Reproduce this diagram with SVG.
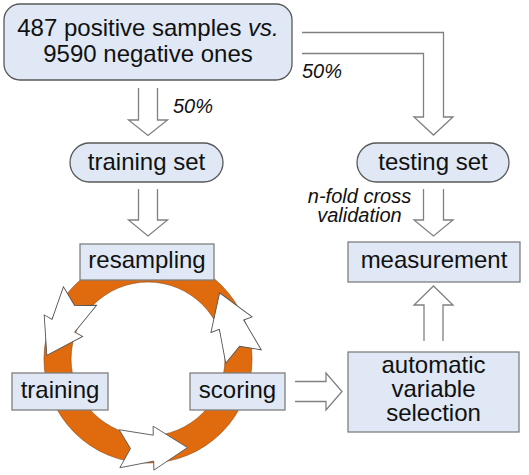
<svg xmlns="http://www.w3.org/2000/svg" width="529" height="475" viewBox="0 0 529 475">
<style>
  .t{font-family:"Liberation Sans",Arial,sans-serif;font-size:24px;fill:#111;text-anchor:middle}
  .lab{font-family:"Liberation Sans",Arial,sans-serif;font-size:20px;font-style:italic;fill:#111}
  .box{fill:#dfe8f4;stroke:#7f7f7f;stroke-width:1.3}
  .rbox{fill:#dfe8f4;stroke:#595959;stroke-width:1.3}
  .harrow{fill:#fff;stroke:#808080;stroke-width:1.3;stroke-linejoin:miter}
  .ring{fill:#e06b0e;stroke:#8a4008;stroke-width:0.6;fill-rule:evenodd}
  .cyc{fill:#fff;stroke:#555;stroke-width:0.9;stroke-linejoin:miter}
</style>
<defs>
  <polygon id="cycArrow" points="0,-19 11,0 0,19 34,13 34,22 68,0 34,-22 34,-13"/>
</defs>
<g id="connectors">
  <path class="harrow" d="M138.5,88 V120 H128.5 L148,135.5 L167.5,120 H157.5 V88"/>
  <path class="harrow" d="M138.5,189 V220 H128.5 L148,236 L167.5,220 H157.5 V189"/>
  <path class="harrow" d="M302,53.5 H423.5 V117 H414 L433.5,135 L453,117 H443.5 V32.5 H302"/>
  <path class="harrow" d="M423.5,189 V220 H414 L433.5,236 L453,220 H443.5 V189"/>
  <path class="harrow" d="M424,341 V305 H414 L433.5,286 L453,305 H443 V341"/>
  <path class="harrow" d="M295,381.5 H326 V373 L342,391.5 L326,410 V401.5 H295"/>
  <text class="lab" x="173" y="113">50%</text>
  <text class="lab" x="302" y="78">50%</text>
  <text class="lab" x="359.5" y="203" text-anchor="middle">n-fold cross</text>
  <text class="lab" x="359.5" y="222" text-anchor="middle">validation</text>
</g>
<g id="cycle">
  <path class="ring" d="M44,359 A104,104 0 1,0 252,359 A104,104 0 1,0 44,359 Z M71,359 A77,77 0 1,0 225,359 A77,77 0 1,0 71,359 Z"/>
</g>
<g id="samples">
  <rect class="rbox" x="4" y="4" width="288" height="76" rx="16"/>
  <text class="t" x="148" y="36">487 positive samples <tspan font-style="italic">vs.</tspan></text>
  <text class="t" x="148" y="62">9590 negative ones</text>
</g>
<g id="training-set">
  <rect class="rbox" x="70" y="143" width="153" height="39" rx="19.5"/>
  <text class="t" x="146.5" y="170">training set</text>
</g>
<g id="testing-set">
  <rect class="rbox" x="357" y="143" width="152" height="39" rx="19.5"/>
  <text class="t" x="433" y="170">testing set</text>
</g>
<g id="resampling">
  <rect class="box" x="80" y="244" width="134" height="36"/>
  <text class="t" x="147" y="268">resampling</text>
</g>
<g id="measurement">
  <rect class="box" x="348" y="242" width="172" height="40"/>
  <text class="t" x="434" y="268">measurement</text>
</g>
<g id="training">
  <rect class="box" x="12" y="373" width="96" height="37"/>
  <text class="t" x="60" y="398">training</text>
</g>
<g id="scoring">
  <rect class="box" x="190" y="373" width="95" height="37"/>
  <text class="t" x="237.5" y="398">scoring</text>
</g>
<g id="automatic-variable-selection">
  <rect class="box" x="348" y="352" width="171" height="80"/>
  <text class="t" x="433.5" y="373">automatic</text>
  <text class="t" x="433.5" y="397">variable</text>
  <text class="t" x="433.5" y="421">selection</text>
</g>
<g id="cycle-arrows">
  <use href="#cycArrow" class="cyc" transform="translate(80,296) rotate(119.2)"/>
  <use href="#cycArrow" class="cyc" transform="translate(119.5,448.75) rotate(-1)"/>
  <use href="#cycArrow" class="cyc" transform="translate(243.5,356.5) rotate(-110.6)"/>
</g>
</svg>
